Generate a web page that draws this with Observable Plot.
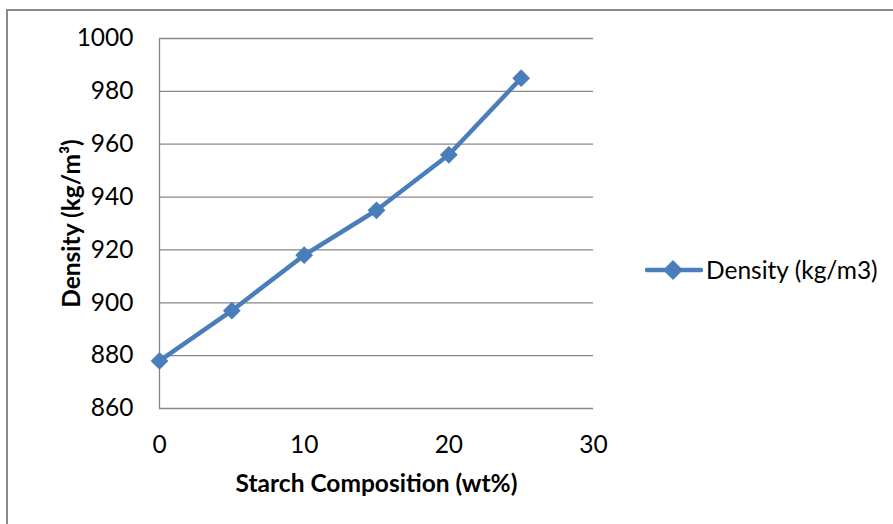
<!DOCTYPE html>
<html>
<head>
<meta charset="utf-8">
<script src="https://cdn.jsdelivr.net/npm/d3@7"></script>
<script src="https://cdn.jsdelivr.net/npm/@observablehq/plot@0.6"></script>
<style>
  html, body { margin: 0; padding: 0; background: #fff; }
  #chart { position: relative; width: 893px; height: 524px; overflow: hidden; font-family: Lato, "Open Sans", sans-serif; }
  #frame { position: absolute; left: 6px; top: 9px; width: 900px; height: 540px;
           border-top: 2px solid #8c8c8c; border-left: 2px solid #8c8c8c; box-sizing: border-box; pointer-events: none; }
  #legend { position: absolute; left: 645px; top: 255px; display: flex; align-items: center; font-size: 24.5px; color: #000; }
  #legend svg { margin-right: 3px; }
  #plot { position: absolute; left: 0; top: 0; }
</style>
</head>
<body>
<div id="chart">
  <div id="plot"></div>
  <div id="frame"></div>
  <div id="legend"></div>
</div>
<script>
// Starch composition (wt%) and measured density (kg/m3)
const starch = [0, 5, 10, 15, 20, 25];
const density = [878, 897, 918, 935, 956, 985];
const xTicks = [0, 10, 20, 30];
const yTicks = [860, 880, 900, 920, 940, 960, 980, 1000];
const seriesName = "Density (kg/m3)";
const xTitle = "Starch Composition (wt%)";
const yTitle = "Density (kg/m\u00B3)";

const color = "#4A7EBB";
const fs = 24.5;
const data = starch.map((s, i) => ({starch: s, density: density[i]}));

const chart = Plot.plot({
  width: 893,
  height: 524,
  marginLeft: 159,
  marginRight: 300,
  marginTop: 38,
  marginBottom: 116,
  style: {background: "#fff", fontFamily: "Lato, 'Open Sans', sans-serif", fontSize: `${fs}px`, color: "#000"},
  x: {domain: [0, 30], ticks: xTicks},
  y: {domain: [860, 1000], ticks: yTicks},
  marks: [
    Plot.ruleY(yTicks, {stroke: "#868686", strokeWidth: 1.3}),
    Plot.ruleX([0], {stroke: "#868686", strokeWidth: 1.3}),
    Plot.axisY({ticks: yTicks, tickFormat: d3.format("d"), tickSize: 0, tickPadding: 26, label: null, fontSize: fs}),
    Plot.axisX({ticks: xTicks, tickFormat: d3.format("d"), tickSize: 0, tickPadding: 27, label: null, fontSize: fs}),
    Plot.text([yTitle], {frameAnchor: "left", textAnchor: "middle", dx: -87.5, rotate: -90, fontWeight: "bold", fontSize: fs, fill: "#000"}),
    Plot.text([xTitle], {frameAnchor: "bottom", dy: 83, fontWeight: "bold", fontSize: fs, fill: "#000"}),
    Plot.line(data, {x: "starch", y: "density", stroke: color, strokeWidth: 4.5, strokeLinejoin: "round"}),
    Plot.dot(data, {x: "starch", y: "density", symbol: "diamond2", r: 8, fill: color, stroke: "none"})
  ]
});
document.getElementById("plot").appendChild(chart);

// Legend entry: line with diamond marker, then series name
const legend = document.getElementById("legend");
legend.innerHTML =
  `<svg width="58" height="28" viewBox="0 0 58 28">
     <line x1="2" y1="14" x2="56" y2="14" stroke="${color}" stroke-width="4.5" stroke-linecap="round"/>
     <polygon points="28,4 38,14 28,24 18,14" fill="${color}"/>
   </svg><span>${seriesName}</span>`;
</script>
</body>
</html>
